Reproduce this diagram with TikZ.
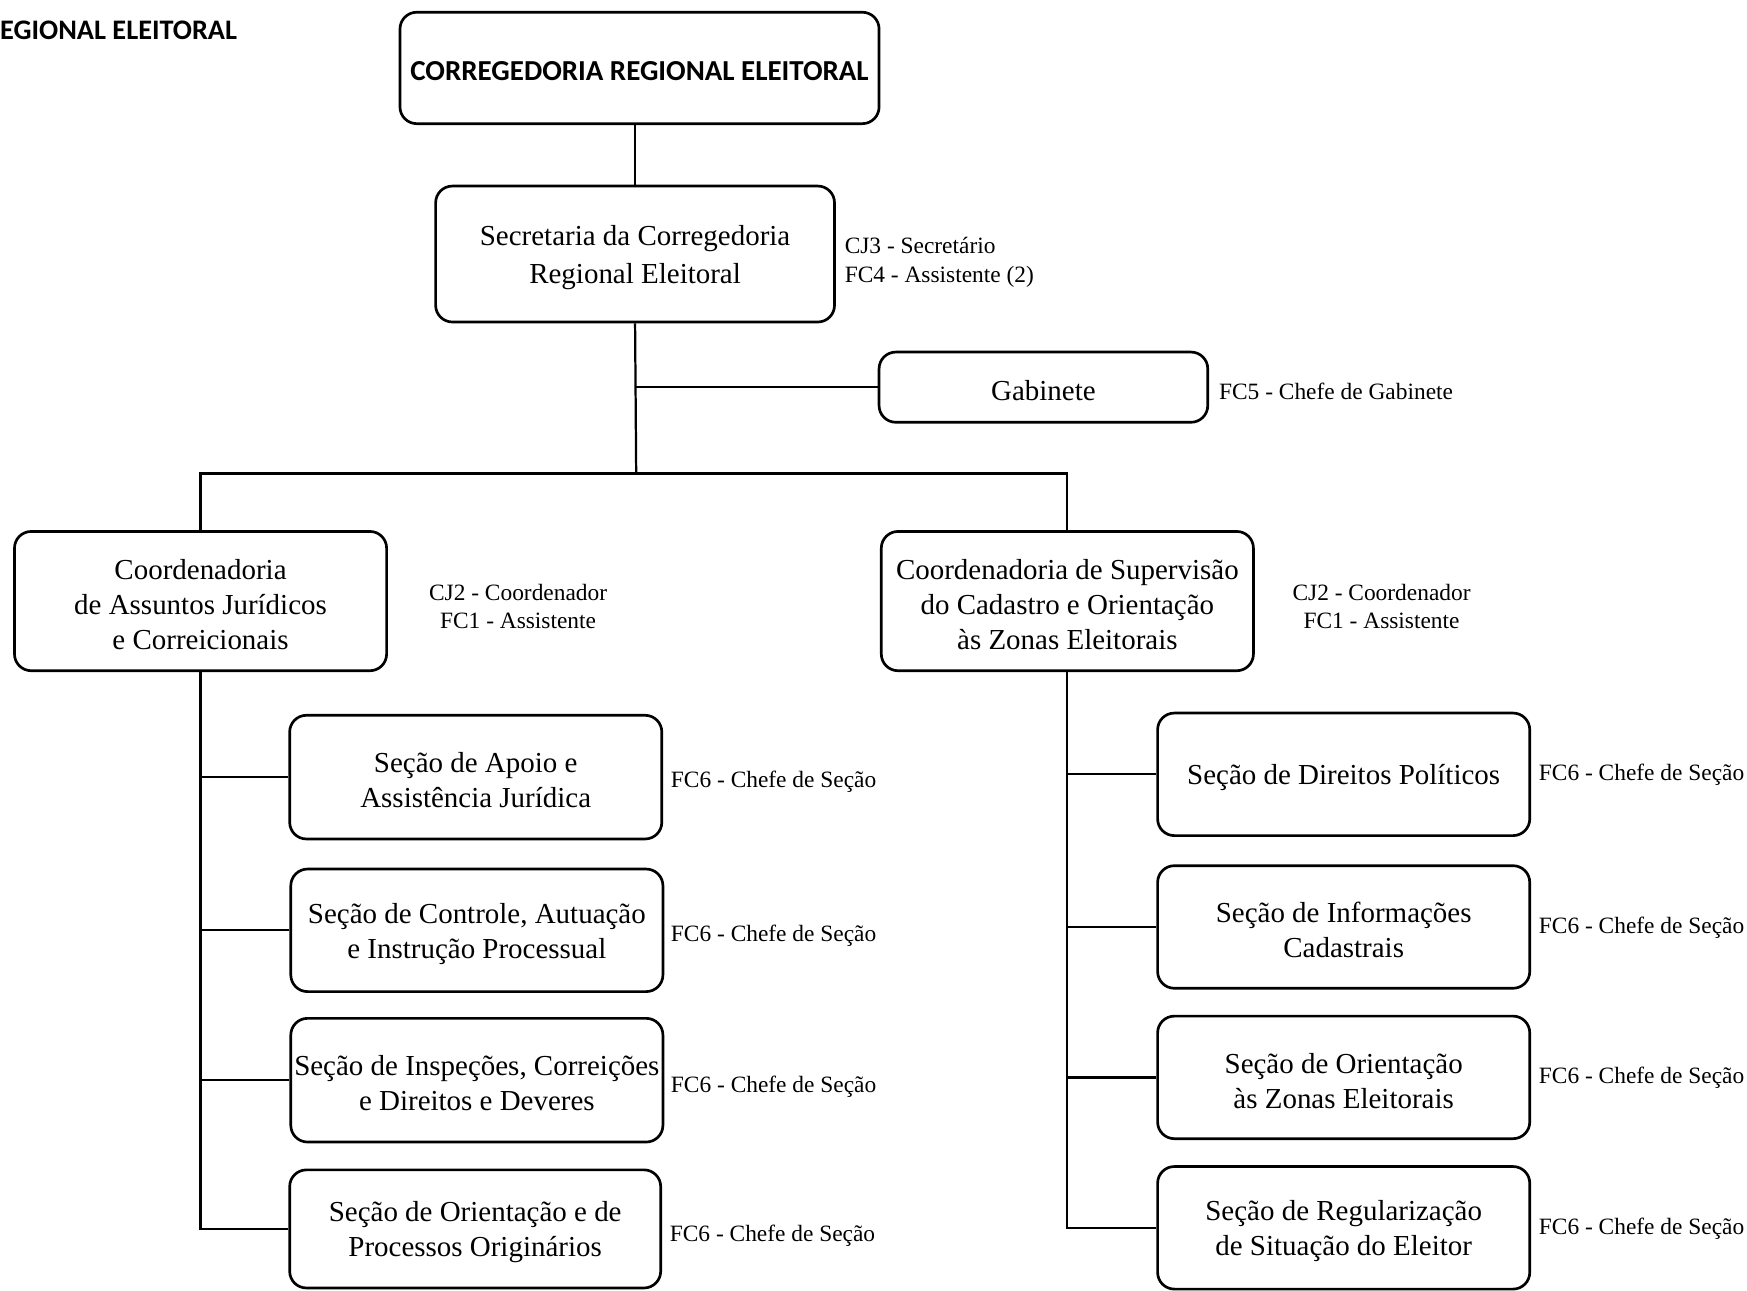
\documentclass[tikz,border=0pt]{standalone}
\usepackage{fontspec}
\setmainfont{Liberation Serif}
\newfontfamily\titlefont{Carlito}
\newcommand\boxfont{\fontsize{26}{31.5}\selectfont}
\newcommand\labfont{\fontsize{21}{25.5}\selectfont}
\newcommand\headfont{\titlefont\bfseries\fontsize{26}{30}\selectfont}
\newcommand\tallstrut{\rule{0pt}{24pt}}
\begin{document}
\begin{tikzpicture}[x=1pt,y=-1pt,
  box/.style={draw, line width=2.4pt, rounded corners=15pt, inner sep=0pt, align=center, font=\boxfont, minimum width=334pt, minimum height=110pt},
  lab/.style={inner sep=0pt, font=\labfont},
  conn/.style={line width=2pt}]
\useasboundingbox (0,0) rectangle (1568,1158);

\node[inner sep=0pt, anchor=base west, font=\titlefont\bfseries\fontsize{25.4}{30}\selectfont] (ttl) at (0,35.3) {EGIONAL ELEITORAL};

\node[draw, line width=2.4pt, rounded corners=15pt, inner sep=0pt, minimum width=430pt, minimum height=100pt, font=\headfont, text height=22.8pt, text depth=0pt] (top) at (574,61) {CORREGEDORIA REGIONAL ELEITORAL};
\node[box, minimum width=358pt, minimum height=122pt, font=\fontsize{26}{34}\selectfont] (sec) at (570,228) {\tallstrut Secretaria da Corregedoria\\Regional Eleitoral};
\node[box, minimum width=295pt, minimum height=63pt] (gab) at (936.5,347.5) {\tallstrut Gabinete};
\node[box, minimum height=125pt] (cL) at (180,539.5) {\tallstrut Coordenadoria\\de Assuntos Jurídicos\\e Correicionais};
\node[box, minimum height=125pt] (cR) at (958,539.5) {\tallstrut Coordenadoria de Supervisão\\do Cadastro e Orientação\\às Zonas Eleitorais};

\node[box, minimum height=111pt] (sL1) at (427,697.5) {\tallstrut Seção de Apoio e\\Assistência Jurídica};
\node[box] (sL2) at (428,835) {\tallstrut Seção de Controle, Autuação\\e Instrução Processual};
\node[box, minimum height=111pt] (sL3) at (428,969.5) {\tallstrut Seção de Inspeções, Correições\\e Direitos e Deveres};
\node[box, minimum width=333pt, minimum height=106pt] (sL4) at (426.5,1103) {\tallstrut Seção de Orientação e de\\Processos Originários};

\node[box] (sR1) at (1206,695) {\tallstrut Seção de Direitos Políticos};
\node[box] (sR2) at (1206,832) {\tallstrut Seção de Informações\\Cadastrais};
\node[box] (sR3) at (1206,967) {\tallstrut Seção de Orientação\\às Zonas Eleitorais};
\node[box] (sR4) at (1206,1102) {\tallstrut Seção de Regularização\\de Situação do Eleitor};

% labels
\node[lab, anchor=west, align=left, font=\fontsize{21}{26}\selectfont] (lsec) at (758,235.5) {CJ3 - Secretário\\FC4 - Assistente (2)};
\node[lab, anchor=west] (lgab) at (1094,351) {FC5 - Chefe de Gabinete};
\node[lab, align=center] (lcL) at (465,544.5) {CJ2 - Coordenador\\FC1 - Assistente};
\node[lab, align=center] (lcR) at (1240,544.5) {CJ2 - Coordenador\\FC1 - Assistente};
\node[lab, anchor=west] (lL1) at (602,702) {FC6 - Chefe de Seção};
\node[lab, anchor=west] (lL2) at (602,840) {FC6 - Chefe de Seção};
\node[lab, anchor=west] (lL3) at (602,975) {FC6 - Chefe de Seção};
\node[lab, anchor=west] (lL4) at (601,1109) {FC6 - Chefe de Seção};
\node[lab, anchor=west] (lR1) at (1381,695) {FC6 - Chefe de Seção};
\node[lab, anchor=west] (lR2) at (1381,833) {FC6 - Chefe de Seção};
\node[lab, anchor=west] (lR3) at (1381,967) {FC6 - Chefe de Seção};
\node[lab, anchor=west] (lR4) at (1381,1103) {FC6 - Chefe de Seção};

% connectors
\coordinate (jt) at (571,425);
\draw[conn] (sec.north) -- (sec.north |- top.south);
\draw[conn] (sec.south) -- (jt);
\draw[conn] (gab.west) -- (gab.west -| sec.south);
\draw[conn] (cL.north) |- (jt) -| (cR.north);

\draw[conn] (cL.south) |- (sL4.west);
\foreach \n in {sL1,sL2,sL3}
  \draw[conn] (\n.west) -- (\n.west -| cL.south);

\draw[conn] (cR.south) |- (sR4.west);
\foreach \n in {sR1,sR2,sR3}
  \draw[conn] (\n.west) -- (\n.west -| cR.south);
\end{tikzpicture}
\end{document}
